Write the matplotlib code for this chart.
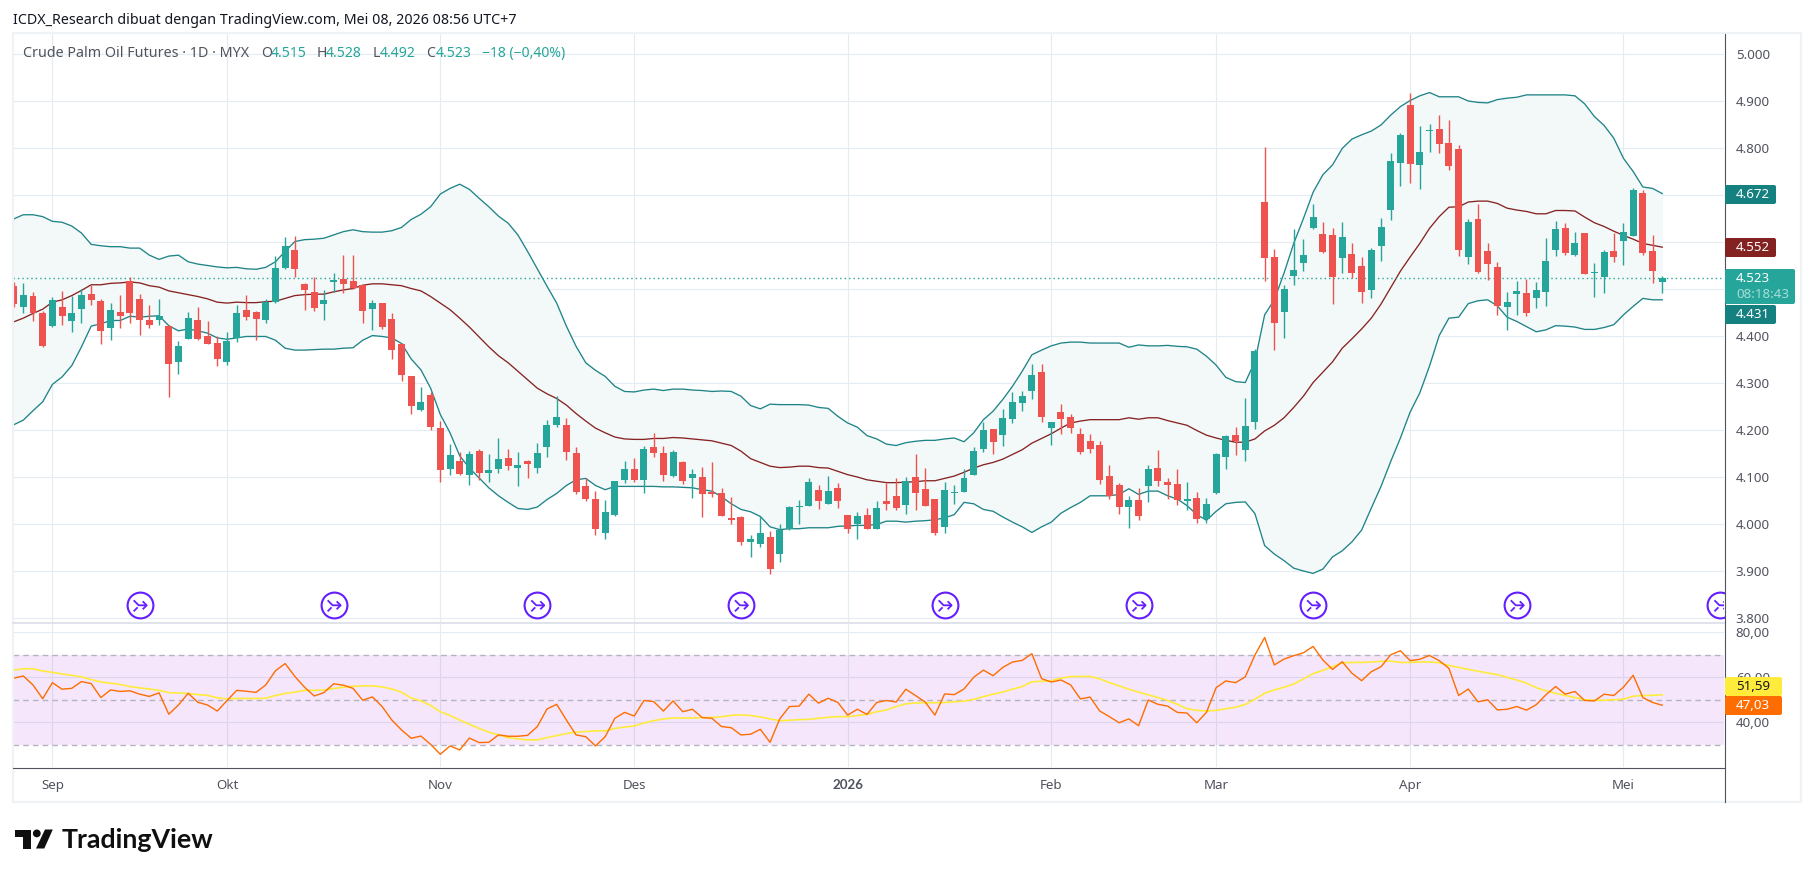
import matplotlib
matplotlib.use("Agg")
import matplotlib.pyplot as plt
import numpy as np
from matplotlib.patches import Polygon, Circle, Rectangle, FancyBboxPatch

W, H = 1814, 877

# daily candles, one value per bar
opens = [4507,4461,4486,4450,4421,4462,4431,4458,4490,4475,4416,4452,4518,4479,4433,4435,4422,4345,4394,4435,
         4401,4386,4345,4396,4456,4452,4435,4473,4545,4583,4511,4494,4469,4515,4521,4517,4509,4458,4470,4437,
         4382,4314,4243,4275,4205,4118,4135,4105,4156,4109,4116,4141,4120,4133,4120,4163,4211,4211,4152,4080,
         4054,3980,4020,4094,4118,4094,4163,4152,4103,4131,4097,4099,4069,4067,4012,4014,3962,3958,3972,3937,
         3990,4037,4039,4073,4043,4077,4020,4001,4020,3990,4050,4060,4041,4101,4075,4054,3994,4067,4069,4105,
         4160,4203,4190,4224,4258,4284,4324,4205,4239,4228,4192,4177,4169,4103,4082,4037,4052,4080,4120,4090,
         4086,4048,4056,4010,4065,4143,4190,4158,4218,4685,4568,4452,4528,4555,4630,4617,4615,4566,4575,4549,
         4498,4592,4668,4768,4892,4764,4836,4840,4811,4798,4568,4649,4581,4547,4462,4489,4492,4481,4494,4583,
         4630,4572,4619,4534,4526,4581,4602,4613,4704,4581,4515]
highs = [4515,4513,4494,4454,4482,4496,4486,4499,4509,4479,4471,4488,4526,4490,4465,4479,4424,4390,4452,4462,
         4431,4401,4409,4467,4488,4454,4479,4570,4611,4613,4513,4526,4498,4534,4572,4572,4510,4477,4471,4448,
         4385,4315,4292,4280,4220,4171,4154,4156,4160,4148,4184,4160,4154,4137,4173,4222,4273,4226,4163,4097,
         4071,4052,4092,4133,4141,4165,4194,4167,4158,4135,4116,4122,4131,4077,4058,4016,3977,4016,3985,3999,
         4039,4052,4097,4084,4103,4088,4020,4026,4035,4048,4088,4097,4101,4148,4120,4054,4090,4082,4116,4163,
         4216,4203,4245,4280,4282,4341,4341,4218,4256,4235,4205,4192,4177,4126,4088,4060,4077,4126,4158,4097,
         4118,4090,4069,4056,4152,4190,4207,4269,4373,4802,4585,4509,4628,4607,4681,4643,4630,4643,4598,4568,
         4587,4651,4789,4832,4917,4847,4851,4870,4860,4806,4649,4681,4598,4558,4494,4517,4521,4515,4609,4645,
         4641,4621,4619,4555,4583,4619,4640,4715,4711,4615,4528]
lows = [4461,4450,4431,4377,4420,4423,4408,4428,4467,4382,4392,4416,4428,4403,4418,4424,4271,4320,4393,4392,
        4382,4337,4339,4388,4435,4392,4428,4471,4542,4526,4455,4453,4434,4494,4491,4500,4428,4413,4415,4352,
        4304,4235,4241,4199,4090,4105,4105,4082,4094,4090,4109,4114,4080,4097,4109,4143,4207,4137,4063,4048,
        3977,3969,4018,4088,4090,4065,4143,4092,4101,4086,4056,4014,4058,4018,3999,3956,3930,3952,3894,3919,
        3988,4001,4039,4031,4043,4035,3980,3969,3990,3990,4029,4029,4022,4029,4039,3977,3980,4043,4069,4105,
        4154,4148,4165,4214,4241,4267,4216,4169,4192,4194,4150,4152,4086,4054,4022,3992,4009,4046,4080,4054,
        4041,4030,4002,4003,4063,4116,4146,4133,4203,4517,4371,4396,4509,4538,4628,4577,4468,4534,4524,4470,
        4481,4560,4647,4719,4726,4713,4792,4789,4753,4570,4553,4534,4519,4445,4413,4445,4443,4460,4464,4570,
        4572,4570,4532,4483,4492,4558,4551,4613,4572,4513,4492]
closes = [4469,4488,4448,4379,4477,4442,4450,4488,4477,4411,4456,4443,4450,4435,4424,4443,4341,4379,4439,4394,
          4384,4352,4390,4448,4441,4437,4473,4545,4592,4543,4498,4460,4477,4519,4511,4502,4454,4470,4419,4371,
          4316,4252,4260,4207,4114,4146,4107,4150,4109,4114,4139,4124,4126,4128,4152,4211,4228,4154,4069,4054,
          3990,4026,4092,4116,4094,4160,4152,4105,4154,4092,4107,4063,4063,4018,4009,3962,3968,3981,3904,3988,
          4037,4039,4090,4048,4071,4050,3990,4016,3990,4035,4043,4035,4092,4065,4039,3980,4073,4069,4097,4156,
          4199,4175,4226,4260,4273,4318,4228,4216,4224,4205,4154,4160,4094,4060,4037,4052,4016,4118,4092,4082,
          4052,4054,4010,4043,4148,4188,4177,4209,4369,4566,4427,4501,4541,4573,4653,4579,4526,4611,4534,4494,
          4583,4632,4772,4828,4766,4792,4838,4809,4762,4583,4643,4536,4553,4464,4472,4496,4449,4498,4560,4628,
          4577,4598,4532,4536,4579,4568,4621,4711,4577,4538,4523]

# bollinger bands
bb_upper = [4649,4658,4658,4654,4644,4642,4634,4619,4595,4592,4590,4590,4587,4587,4572,4563,4570,4572,4558,4553,
            4550,4547,4545,4546,4543,4542,4546,4558,4580,4601,4605,4606,4608,4615,4622,4626,4622,4621,4621,4624,
            4631,4648,4659,4675,4702,4714,4723,4712,4693,4675,4655,4640,4615,4580,4543,4506,4470,4421,4378,4343,
            4327,4314,4293,4282,4281,4285,4287,4284,4287,4287,4285,4284,4282,4283,4282,4272,4252,4245,4255,4254,
            4254,4254,4253,4248,4246,4229,4215,4206,4188,4181,4170,4167,4173,4176,4178,4178,4181,4183,4175,4194,
            4222,4240,4265,4293,4325,4360,4370,4379,4385,4387,4387,4385,4385,4385,4385,4376,4381,4379,4379,4380,
            4378,4377,4372,4357,4338,4312,4303,4301,4346,4445,4477,4534,4597,4650,4706,4743,4764,4799,4819,4828,
            4836,4849,4870,4888,4901,4911,4918,4909,4909,4909,4900,4897,4896,4903,4906,4908,4913,4913,4913,4913,
            4913,4911,4894,4867,4848,4821,4778,4750,4717,4714,4703]
bb_basis = [4430,4438,4448,4457,4472,4477,4486,4497,4509,4509,4512,4513,4515,4513,4507,4504,4496,4492,4488,4484,
            4479,4472,4470,4472,4471,4471,4473,4474,4480,4486,4488,4489,4489,4494,4498,4501,4508,4511,4511,4509,
            4507,4501,4496,4484,4470,4456,4438,4419,4398,4377,4358,4343,4325,4307,4289,4277,4267,4253,4235,4219,
            4204,4194,4185,4181,4180,4180,4182,4182,4184,4183,4181,4179,4177,4172,4167,4155,4139,4131,4123,4120,
            4121,4123,4123,4120,4119,4112,4105,4100,4094,4091,4088,4088,4089,4090,4092,4092,4097,4102,4110,4119,
            4126,4131,4138,4148,4158,4172,4182,4192,4204,4215,4219,4222,4222,4222,4222,4226,4223,4226,4226,4220,
            4215,4210,4199,4189,4183,4178,4174,4174,4181,4198,4210,4226,4248,4272,4301,4323,4345,4374,4394,4415,
            4438,4468,4503,4538,4568,4597,4629,4654,4674,4675,4685,4687,4687,4682,4672,4668,4665,4660,4660,4667,
            4667,4666,4653,4641,4633,4623,4614,4606,4597,4593,4589]
bb_lower = [4211,4221,4241,4260,4297,4313,4337,4377,4421,4426,4433,4433,4442,4440,4442,4443,4422,4411,4415,4411,
            4406,4396,4393,4396,4399,4399,4399,4391,4374,4370,4370,4371,4372,4372,4374,4375,4391,4401,4399,4396,
            4384,4351,4328,4289,4233,4194,4145,4119,4098,4077,4060,4046,4033,4031,4036,4052,4065,4082,4094,4097,
            4082,4073,4080,4080,4080,4080,4080,4079,4079,4078,4077,4073,4070,4058,4043,4031,4026,4016,3994,3988,
            3990,3990,3992,3992,3992,3995,3996,3997,3997,3999,4006,4006,4004,4006,4007,4009,4013,4020,4046,4043,
            4031,4027,4015,4004,3994,3982,3994,4004,4023,4035,4046,4060,4060,4060,4063,4075,4063,4070,4070,4060,
            4053,4039,4020,4008,4027,4043,4046,4047,4022,3954,3936,3922,3906,3900,3895,3904,3930,3943,3962,3987,
            4034,4080,4133,4183,4238,4279,4336,4401,4438,4440,4469,4475,4477,4464,4440,4431,4420,4409,4413,4422,
            4421,4419,4414,4414,4418,4424,4445,4463,4480,4477,4477]

# rsi pane
rsi = [59.6,60.6,56.6,50.5,57.6,54.7,55.1,58.1,57.2,51,54.4,53.7,54,52.5,51.5,53.1,43.6,47.7,52.9,48.9,
       47.7,45,49.6,54.2,53.8,53.3,56.6,62.9,66.1,60.4,55.6,51.7,53.2,57.1,56.5,55.1,49.8,51.3,47,41,
       36.6,32.9,33.9,30.2,25.8,29.5,27.7,33,31,31.1,34.4,33.8,33.8,34.2,38.1,45.9,48,41,34.4,33.6,
       29.5,33.6,41.8,44.4,42.8,49.7,49.2,45,49.5,44.7,45.8,42.1,41.8,38.1,37.6,34.4,34.7,36.9,31.1,41.5,
       47,47.2,52.5,48.5,50.7,48.8,43.2,45.8,43.5,48.8,49.7,49,54.7,51.9,49,43.2,52.6,52.3,54.8,60,
       63.2,60.7,64.4,66.8,67.5,70.5,59.4,57.9,58.8,56.6,50.4,51.2,45,42.5,39.8,41.5,38.5,49.9,48,47.2,
       44.4,44.1,39.8,44.4,55.4,58.4,57.6,60.2,69.9,77.7,65.5,68.1,69.6,70.9,73.7,67.7,63.5,66.9,61.8,58.5,
       62.5,64.7,70,71.8,67.4,68,69.7,67.4,64,51.9,54.8,49.1,50,45.5,45.8,47,45.4,47.8,52.2,55.9,
       52.5,53.7,49.7,49.5,52.5,51.9,55.6,60.9,51,48.8,47.6]
rsi_ma = [63.2,63.8,63.8,62.8,62.2,61.5,60.9,60.2,59,57.9,57.4,56.8,55.9,55.3,54.8,54.2,53.2,53,52.8,52.3,
          52,50.9,50.4,50.6,50.6,50.6,50.7,51.9,52.8,53.4,54.2,54.2,54.4,55,55.6,56,56.2,56.2,55.7,54.8,
          53.4,50.8,49.5,47.5,44.7,43,41,39.1,37.3,35.6,34.4,33.2,32.6,32.2,32.2,33.2,34.1,35,35.6,35.9,
          36.2,36.2,37.3,37.9,38.4,39.7,40.7,41.5,41.9,41.9,41.9,42.1,42.1,42.5,43.1,43.3,43,42.4,41.5,40.7,
          40.9,41.2,41.3,41.8,42.2,42.5,42.5,43,43.5,44.7,45.5,47,48.2,48.6,48.7,48.7,48.8,49.1,49.4,50.2,
          51.4,52.5,53.5,54.7,55.9,58,58.2,58.5,59.6,60.3,60.4,60.4,59.3,57.6,56.2,54.7,53.4,52.2,51,49.7,
          48,46,45.3,45,45.3,46,46.7,47.9,50.3,52.9,54.4,55.6,57,59.3,61.6,63.1,64.7,66.5,66.6,66.6,
          66.8,67.1,67.2,66.6,66.6,66.8,66.8,66.5,65.3,64.4,63.5,62.7,61.9,61.2,60,58.8,57.4,55.4,54,52.9,
          51.9,51,50,49.8,49.8,50,50.3,51.6,51.9,52,52.2]

# axes
month_bars = [4, 22, 44, 64, 86, 107, 124, 144, 166]
month_labels = ["Sep", "Okt", "Nov", "Des", "2026", "Feb", "Mar", "Apr", "Mei"]
price_ticks = [3800, 3900, 4000, 4100, 4200, 4300, 4400, 4500, 4600, 4700, 4800, 4900, 5000]
# 4.500 and 4.700 sit fully behind the value boxes
price_labels = ["3.800", "3.900", "4.000", "4.100", "4.200", "4.300", "4.400", "", "4.600", "", "4.800", "4.900", "5.000"]
rsi_ticks = [40, 60, 80]
rsi_labels = ["40,00", "60,00", "80,00"]
event_bars = [13, 33, 54, 75, 96, 116, 134, 155, 176]
event_price = 3827
last_price = 4523

plt.rcParams["font.family"] = ["Noto Sans", "DejaVu Sans"]
TEAL, RED = "#26a69a", "#ef5350"
GRID = "#e2ecf2"
TEXT = "#50535e"
BAND = "#1f8488"
BOX_TEAL = "#14807f"

fig = plt.figure(figsize=(W / 100, H / 100), dpi=100)


def pane(left, top, right, bottom):
    return fig.add_axes([left / W, 1 - bottom / H, (right - left) / W, (bottom - top) / H])


ax = pane(13, 34, 1724, 622)
ax_rsi = pane(13, 622, 1724, 767)
xlim = ((13 - 13.6) / 9.698, (1724 - 13.6) / 9.698)
bars = np.arange(len(closes))

for a in (ax, ax_rsi):
    a.set_xlim(*xlim)
    a.set_xticks(month_bars)
    a.grid(True, color=GRID, lw=0.8, zorder=0)
    a.set_axisbelow(True)
    a.yaxis.tick_right()
    for s in a.spines.values():
        s.set_visible(False)
    a.tick_params(length=0, labelsize=9.6, labelcolor=TEXT)

# price pane
ax.set_ylim(5000 - (622 - 54) / 0.47, 5000 + (54 - 34) / 0.47)
ax.set_yticks(price_ticks, price_labels)
ax.tick_params(axis="y", pad=8.5)
ax.tick_params(axis="x", labelbottom=False)

ax.fill_between(bars, bb_lower, bb_upper, color="#f3f8f8", zorder=1, lw=0)
ax.plot(bars, bb_upper, color=BAND, lw=0.95, zorder=2)
ax.plot(bars, bb_lower, color=BAND, lw=0.95, zorder=2)
ax.plot(bars, bb_basis, color="#872323", lw=0.95, zorder=2)
ax.axhline(last_price, color=TEAL, lw=1.0, ls=(0, (1, 2.2)), zorder=2)

o, hi, lo, c = map(np.array, (opens, highs, lows, closes))
colors = np.where(c >= o, TEAL, RED)
ax.vlines(bars, lo, hi, colors=colors, lw=1.0, zorder=3)
ax.bar(bars, np.maximum(np.abs(c - o), 2), bottom=np.minimum(o, c), width=0.72, color=colors, zorder=4, lw=0)

# event markers, offsets are in pixels around each marker
px_x, px_y = 1 / 9.698, 1 / 0.47
glyph = [[(-6, 5), (-1, 0), (7, 0)], [(3, 4), (7, 0), (3, -4)], [(-6, -6), (-2, -2)]]
ax.scatter(event_bars, [event_price] * len(event_bars), s=345, facecolor="white", edgecolor="#651fff", lw=1.5, zorder=5)
for b in event_bars:
    for stroke in glyph:
        ax.plot([b + p[0] * px_x for p in stroke], [event_price + p[1] * px_y for p in stroke],
                color="#651fff", lw=1.3, zorder=6, solid_capstyle="butt")

# rsi pane
ax_rsi.set_ylim(60 - (767 - 677.3) / 2.25, 60 + (677.3 - 622) / 2.25)
ax_rsi.set_yticks(rsi_ticks, rsi_labels)
ax_rsi.set_xticks(month_bars, month_labels)
ax_rsi.tick_params(axis="y", pad=8.5)
ax_rsi.tick_params(axis="x", pad=8.5)
year_label = ax_rsi.get_xticklabels()[4]
year_label.set_family(["Lato", "DejaVu Sans"])
year_label.set_fontweight("bold")
ax_rsi.axhspan(30, 70, color="#b94fe8", alpha=0.14, lw=0, zorder=1)
for level in (30, 50, 70):
    ax_rsi.axhline(level, color="#b6b3bf", lw=1.0, ls=(0, (4, 3)), zorder=2)
ax_rsi.plot(bars, rsi_ma, color="#ffeb3b", lw=1.2, zorder=3)
ax_rsi.plot(bars, rsi, color="#ff6d00", lw=1.0, zorder=4)

for a in (ax, ax_rsi):
    for lab in a.get_yticklabels():
        lab.set_va("center_baseline")

# overlay in pixel coordinates for frame, header, value boxes and logo
ov = fig.add_axes([0, 0, 1, 1], zorder=10)
ov.set_xlim(0, W)
ov.set_ylim(H, 0)
ov.axis("off")
ov.add_patch(Rectangle((12.5, 33), 1788, 769, fill=False, ec="#f0f3f5", lw=1.6))
ov.plot([13, 1724], [622.5, 622.5], color="#e0e3eb", lw=1.4)
ov.plot([13, 1724], [767.5, 767.5], color=TEXT, lw=0.8)
ov.plot([1724.5, 1724.5], [34, 802], color=TEXT, lw=0.8)

ov.text(13, 20, "ICDX_Research dibuat dengan TradingView.com, Mei 08, 2026 08:56 UTC+7",
        fontsize=10.25, color="#131722", va="center")

ov.text(23, 53.5, "Crude Palm Oil Futures · 1D · MYX", fontsize=10.3, color=TEXT, va="center")
for x, label, col in [(261, "O", TEXT), (271, "4.515", TEAL), (317, "H", TEXT), (326, "4.528", TEAL),
                      (373, "L", TEXT), (380, "4.492", TEAL), (426, "C", TEXT), (436, "4.523", TEAL),
                      (482, "−18 (−0,40%)", TEAL)]:
    ov.text(x, 53.5, label, fontsize=10.1, color=col, va="center")


def value_box(y0, y1, right, label, fill, text_color="white", y_text=None):
    ov.add_patch(FancyBboxPatch((1725, y0), right - 1725, y1 - y0, boxstyle="round,pad=0,rounding_size=2",
                                fc=fill, ec="none", zorder=3))
    ov.text(1736, (y0 + y1) / 2 if y_text is None else y_text, label, color=text_color, fontsize=9.6,
            va="center", zorder=4)


value_box(185, 204, 1776, "4.672", BOX_TEAL)
value_box(238, 257, 1776, "4.552", "#842221")
value_box(269, 304, 1795, "4.523", TEAL, y_text=279)
ov.text(1736, 295, "08:18:43", color="#a8dcd6", fontsize=9.6, va="center", zorder=4)
value_box(305, 324, 1776, "4.431", BOX_TEAL)
value_box(677, 696, 1782, "51,59", "#ffeb3b", text_color="#131722")
value_box(696, 715, 1782, "47,03", "#ff6d00")

# logo
ov.add_patch(Polygon([(15, 829.5), (30.7, 829.5), (30.7, 848.5), (22.7, 848.5), (22.7, 836.8), (15, 836.8)],
                     fc="#0f0f0f", ec="none"))
ov.add_patch(Circle((36.8, 833.4), 3.9, fc="#0f0f0f", ec="none"))
ov.add_patch(Polygon([(45, 829.5), (52.8, 829.5), (44.3, 848.5), (36, 848.5)], fc="#0f0f0f", ec="none"))
ov.text(61.5, 839.5, "TradingView", fontsize=19.3, fontweight="bold", family=["Lato", "DejaVu Sans"],
        color="#0f0f0f", va="center")

fig.savefig("out.png", dpi=100, facecolor="white")
